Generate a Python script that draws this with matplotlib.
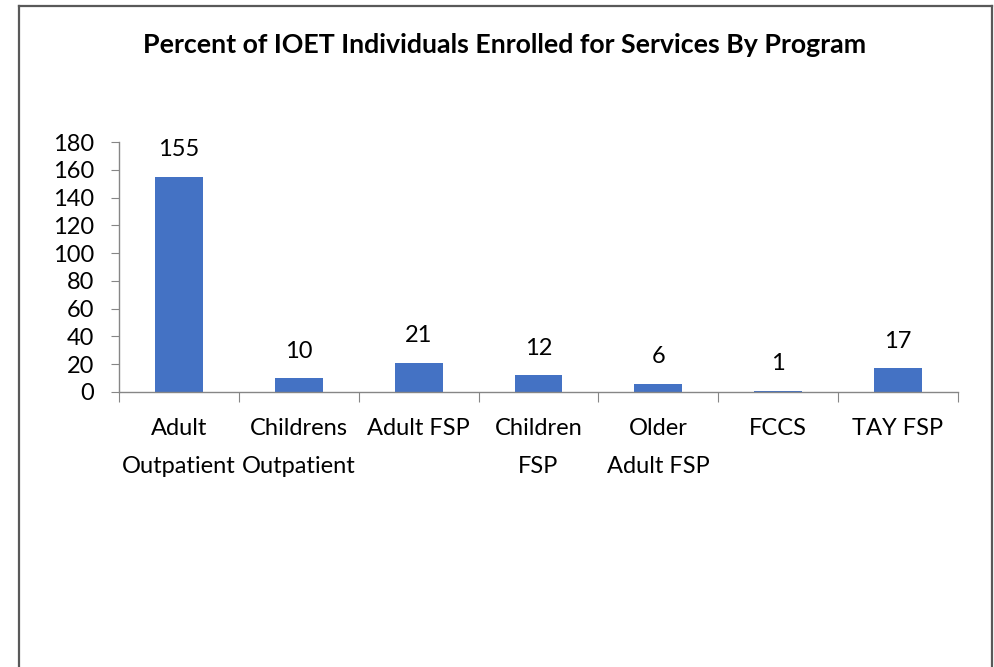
import numpy as np
import matplotlib.pyplot as plt
from matplotlib.lines import Line2D

programs = ['Adult\nOutpatient', 'Childrens\nOutpatient', 'Adult FSP', 'Children\nFSP',
            'Older\nAdult FSP', 'FCCS', 'TAY FSP']
enrolled = [155, 10, 21, 12, 6, 1, 17]
yticks = [0, 20, 40, 60, 80, 100, 120, 140, 160, 180]

plt.rcParams['font.family'] = ['Lato', 'DejaVu Sans']

fig = plt.figure(figsize=(9.95, 6.67), dpi=100)
ax = fig.add_axes([0.1196, 0.4123, 0.8432, 0.3748])

x = np.arange(len(programs))
ax.bar(x, enrolled, width=0.4, color='#4472C4', zorder=2)
for xi, v in zip(x, enrolled):
    ax.annotate(str(v), (xi, v), xytext=(0, 19.5), textcoords='offset points',
                ha='center', va='center', fontsize=17, color='black')

ax.set_xlim(-0.5, len(programs) - 0.5)
ax.set_ylim(0, 180)
ax.set_yticks(yticks)
ax.tick_params(axis='y', labelsize=17, length=6, color='#868686', pad=12)

# category boundaries carry the tick marks, labels sit at the centres
ax.set_xticks(np.arange(len(programs) + 1) - 0.5)
ax.set_xticklabels([])
ax.tick_params(axis='x', length=7, color='#868686')
for xi, lab in zip(x, programs):
    ax.text(xi, -19, lab, ha='center', va='top', fontsize=17, linespacing=1.95,
            transform=ax.transData)

for s in ['top', 'right']:
    ax.spines[s].set_visible(False)
for s in ['left', 'bottom']:
    ax.spines[s].set_color('#868686')
    ax.spines[s].set_linewidth(1)

fig.text(0.5075, 0.932, 'Percent of IOET Individuals Enrolled for Services By Program',
         ha='center', va='center', fontsize=19.3, fontweight='bold')

# chart frame, open at the bottom
fc = '#595959'
fig.add_artist(Line2D([0.019, 0.019], [0.0, 0.991], color=fc, lw=1.6, transform=fig.transFigure))
fig.add_artist(Line2D([0.019, 0.997], [0.991, 0.991], color=fc, lw=1.6, transform=fig.transFigure))
fig.add_artist(Line2D([0.997, 0.997], [0.0, 0.991], color=fc, lw=1.6, transform=fig.transFigure))

fig.savefig('out.png', dpi=100)
